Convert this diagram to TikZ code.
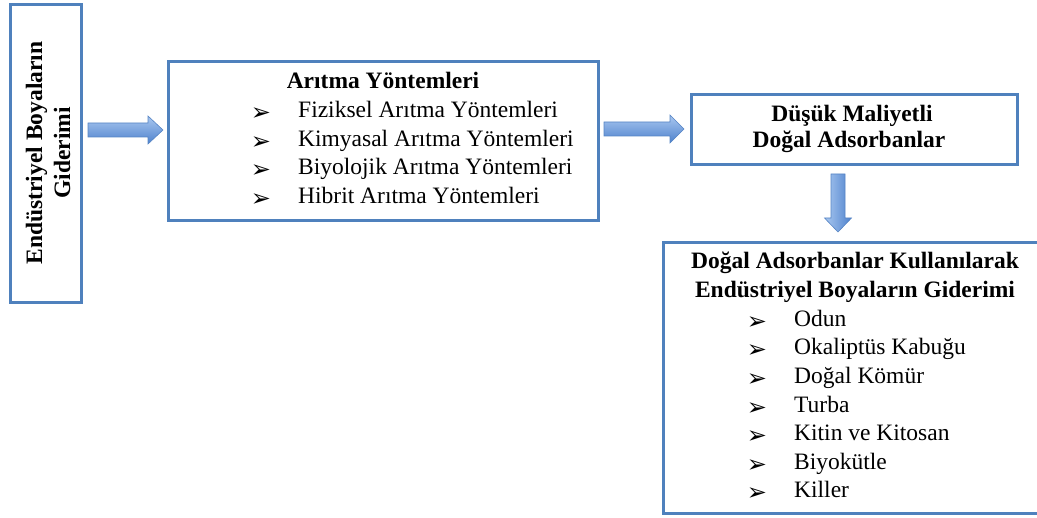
\documentclass[tikz,border=0pt]{standalone}
\usepackage{fontspec}
\setmainfont{Liberation Serif}
\newfontfamily\dejavu{DejaVu Sans}
\usetikzlibrary{calc}
\definecolor{boxblue}{RGB}{79,129,189}
\definecolor{arrlight}{RGB}{170,200,240}
\definecolor{arrdark}{RGB}{78,130,205}
\definecolor{arredge}{RGB}{86,132,196}
\tikzset{
  box/.style={draw=boxblue, line width=3pt, rectangle, inner sep=0pt},
  txt/.style={anchor=base west, inner sep=0pt, font=\fontsize{23.5}{28}\selectfont},
  hd/.style={anchor=base, inner sep=0pt, font=\fontsize{23.5}{28}\selectfont\bfseries},
  bul/.style={anchor=center, inner sep=0pt, font=\dejavu\fontsize{24}{24}\selectfont},
  blockarrow/.style={draw=arredge, line width=0.6pt, top color=arrlight, bottom color=arrdark},
  vblockarrow/.style={draw=arredge, line width=0.6pt, left color=arrlight, right color=arrdark}
}
\begin{document}
\begin{tikzpicture}[x=1pt,y=-1pt]
\useasboundingbox (0,0) rectangle (1037,518);
\clip (0,0) rectangle (1037,518);
% boxes
\node[box, minimum width=71pt, minimum height=298pt] (b1) at (46,153.5) {};
\node[box, minimum width=430pt, minimum height=159pt] (b2) at (383.5,141) {};
\node[box, minimum width=326pt, minimum height=70pt] (b3) at (854.5,129.5) {};
\node[box, minimum width=396.5pt, minimum height=271pt] (b4) at (861.75,378) {};
% box 1 text (rotated)
\node[hd, rotate=90] (t1a) at (42,153) {Endüstriyel Boyaların};
\node[hd, rotate=90] (t1b) at (70,153) {Giderimi};
% box 2 text
\node[hd] (t2h) at (383,89) {Arıtma Yöntemleri};
\foreach \i/\y/\t in {1/118/Fiziksel Arıtma Yöntemleri, 2/147/Kimyasal Arıtma Yöntemleri, 3/175/Biyolojik Arıtma Yöntemleri, 4/204/Hibrit Arıtma Yöntemleri}{
  \node[bul] (t2b\i) at (261,\y-3.5) {➢};
  \node[txt] (t2t\i) at (298,\y) {\t};
}
% box 3 text
\node[hd] (t3a) at (852,122) {Düşük Maliyetli};
\node[hd] (t3b) at (849,148) {Doğal Adsorbanlar};
% box 4 text
\node[hd] (t4a) at (855,269) {Doğal Adsorbanlar Kullanılarak};
\node[hd] (t4b) at (855,298) {Endüstriyel Boyaların Giderimi};
\foreach \i/\y/\t in {1/327/Odun, 2/355/Okaliptüs Kabuğu, 3/384/Doğal Kömür, 4/413/Turba, 5/441/Kitin ve Kitosan, 6/470/Biyokütle, 7/498/Killer}{
  \node[bul] (t4b\i) at (757,\y-3.5) {➢};
  \node[txt] (t4t\i) at (794,\y) {\t};
}
% block arrows
\coordinate (a1s) at (88,130);
\coordinate (a1e) at (163,130);
\shade[blockarrow] ($(a1s)+(0,-7)$) -- ($(a1e)+(-15,-7)$) -- ($(a1e)+(-15,-14)$) -- (a1e)
  -- ($(a1e)+(-15,14)$) -- ($(a1e)+(-15,7)$) -- ($(a1s)+(0,7)$) -- cycle;
\coordinate (a2s) at (604,129);
\coordinate (a2e) at (684,129);
\shade[blockarrow] ($(a2s)+(0,-7)$) -- ($(a2e)+(-14,-7)$) -- ($(a2e)+(-14,-14)$) -- (a2e)
  -- ($(a2e)+(-14,14)$) -- ($(a2e)+(-14,7)$) -- ($(a2s)+(0,7)$) -- cycle;
\coordinate (a3s) at (838,174);
\coordinate (a3e) at (838,232);
\shade[vblockarrow] ($(a3s)+(-7,0)$) -- ($(a3e)+(-7,-14)$) -- ($(a3e)+(-13.5,-14)$) -- (a3e)
  -- ($(a3e)+(13.5,-14)$) -- ($(a3e)+(7,-14)$) -- ($(a3s)+(7,0)$) -- cycle;
\end{tikzpicture}
\end{document}
